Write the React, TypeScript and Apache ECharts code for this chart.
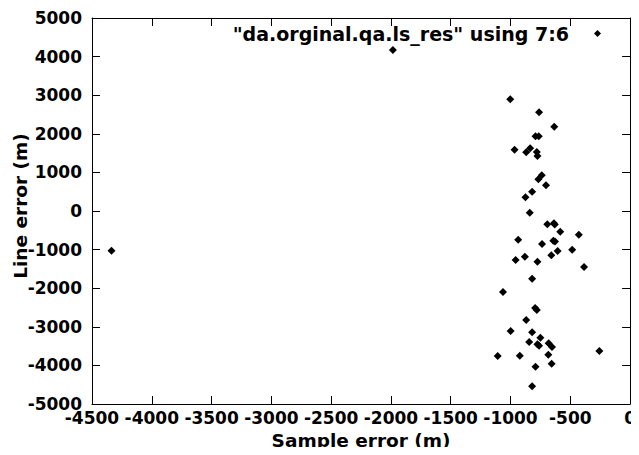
import React, { useEffect, useRef } from "react";
import * as echarts from "echarts";

const seriesName = '"da.orginal.qa.ls_res" using 7:6';
const xAxisTitle = "Sample error (m)";
const yAxisTitle = "Line error (m)";

const sampleError: number[] = [
  -4337, -1984,
  -1002, -761, -634, -791, -764, -966, -869, -836, -780, -775,
  -739, -767, -703, -819, -875, -839,
  -692, -637, -630, -584, -429, -936, -736, -642, -628, -606, -484,
  -957, -880, -775, -659, -385, -819, -1063,
  -794, -780, -869, -999, -819, -750, -844, -775, -761, -681, -653,
  -1107, -922, -684, -257, -656, -791, -819,
];
const lineError: number[] = [
  -1028, 4170,
  2893, 2557, 2185, 1935, 1935, 1589, 1520, 1624, 1528, 1425,
  924, 821, 665, 500, 355, -43,
  -345, -319, -350, -535, -613, -743, -855, -769, -790, -1036, -1002,
  -1269, -1183, -1313, -1149, -1451, -1753, -2098,
  -2513, -2565, -2824, -3109, -3143, -3282, -3394, -3454, -3489, -3428, -3523,
  -3756, -3748, -3722, -3627, -3955, -4033, -4542,
];

const FONT = "DejaVu Sans";

export default function App() {
  const ref = useRef<HTMLDivElement>(null);
  useEffect(() => {
    if (!ref.current) return;
    const chart = echarts.init(ref.current, null, { renderer: "svg" });
    const points = sampleError.map((x, i) => [x, lineError[i]]);
    const axisLine = { show: true, onZero: false, lineStyle: { color: "#000", width: 1 } };
    const tick = { show: true, inside: true, length: 8, lineStyle: { color: "#000", width: 1 } };
    const labelStyle = { fontFamily: FONT, fontWeight: "bold" as const, fontSize: 17, color: "#000" };
    const fmt = (v: number) => String(v);
    chart.setOption({
      animation: false,
      backgroundColor: "#fff",
      grid: { left: 92, right: 5, top: 18, bottom: 51, containLabel: false },
      legend: {
        data: [seriesName],
        right: 33,
        top: 19,
        align: "right",
        icon: "diamond",
        itemWidth: 7,
        itemHeight: 7,
        itemStyle: { color: "#000", opacity: 1 },
        textStyle: { ...labelStyle, fontSize: 19, padding: [0, 20, 0, 0] },
      },
      xAxis: [
        {
          type: "value",
          position: "bottom",
          min: -4500,
          max: 0,
          interval: 500,
          axisLine,
          axisTick: tick,
          splitLine: { show: false },
          axisLabel: { ...labelStyle, margin: 5, formatter: fmt, showMinLabel: true, showMaxLabel: true, hideOverlap: false },
          name: xAxisTitle,
          nameLocation: "middle",
          nameGap: 26,
          nameTextStyle: { ...labelStyle, fontSize: 18.5 },
        },
        {
          type: "value",
          position: "top",
          min: -4500,
          max: 0,
          interval: 500,
          axisLine,
          axisTick: tick,
          splitLine: { show: false },
          axisLabel: { show: false },
        },
      ],
      yAxis: [
        {
          type: "value",
          position: "left",
          min: -5000,
          max: 5000,
          interval: 1000,
          axisLine,
          axisTick: tick,
          splitLine: { show: false },
          axisLabel: { ...labelStyle, margin: 10, formatter: fmt, showMinLabel: true, showMaxLabel: true, hideOverlap: false },
        },
        {
          type: "value",
          position: "right",
          min: -5000,
          max: 5000,
          interval: 1000,
          axisLine,
          axisTick: tick,
          splitLine: { show: false },
          axisLabel: { show: false },
        },
      ],
      graphic: [
        {
          type: "text",
          x: 20,
          y: 206,
          rotation: Math.PI / 2,
          style: {
            text: yAxisTitle,
            font: `bold 18.5px "${FONT}"`,
            fill: "#000",
            align: "center",
            verticalAlign: "middle",
          },
        },
      ],
      series: [
        {
          name: seriesName,
          type: "scatter",
          symbol: "diamond",
          symbolSize: 8,
          itemStyle: { color: "#000", opacity: 1 },
          data: points,
        },
      ],
    });
    return () => chart.dispose();
  }, []);
  return <div ref={ref} style={{ width: 639, height: 455, margin: -8 }} />;
}
